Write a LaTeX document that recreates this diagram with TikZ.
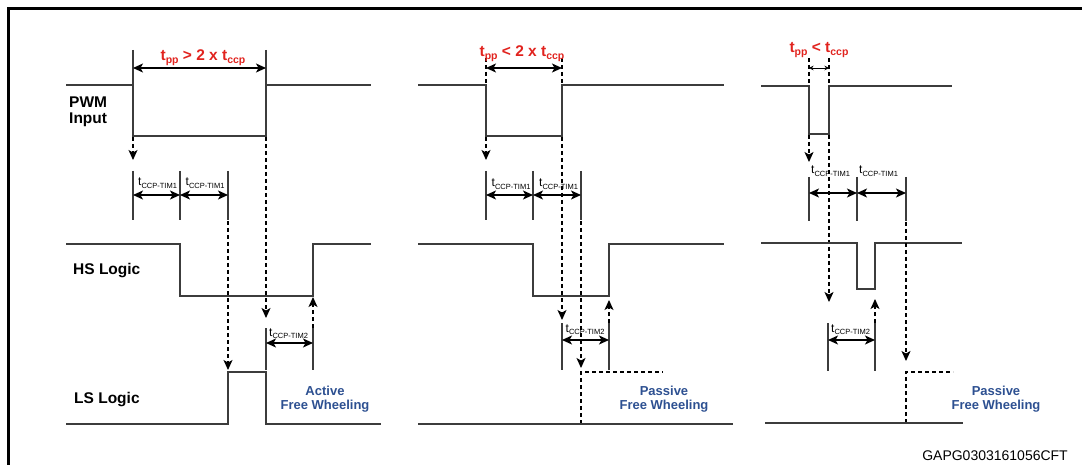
\documentclass[tikz,border=0pt]{standalone}
\usepackage{fontspec}
\setmainfont{Liberation Sans}
\usetikzlibrary{arrows.meta}
\definecolor{redlab}{RGB}{225,35,30}
\definecolor{bluelab}{RGB}{45,80,145}
\definecolor{wavec}{RGB}{60,60,60}
\tikzset{
 wave/.style={draw=wavec, line width=1.3pt},
 tickl/.style={draw=wavec, line width=1.2pt},
 dimarr/.style={line width=1.1pt, {Stealth[length=10pt,width=9pt,inset=2.5pt]}-{Stealth[length=10pt,width=9pt,inset=2.5pt]}},
 smalldim/.style={line width=0.8pt, {Stealth[length=4.5pt,width=4.5pt]}-{Stealth[length=4.5pt,width=4.5pt]}},
 dsh/.style={line width=1.1pt, dash pattern=on 4pt off 3pt},
 darr/.style={dsh, -{Stealth[length=10pt,width=9pt,inset=2.5pt]}},
 sig/.style={font=\fontsize{15.5}{16.5}\selectfont\bfseries, align=left, inner sep=0pt},
 tpplab/.style={font=\fontsize{15.5}{15.5}\selectfont\bfseries, text=redlab, anchor=base, inner sep=0pt},
 fwlab/.style={font=\fontsize{13}{14}\selectfont\bfseries, text=bluelab, align=center, anchor=center, inner sep=0pt},
 timlab/.style={font=\fontsize{12}{12}\selectfont, anchor=base west, inner sep=0pt},
}
\newcommand{\tsub}[1]{t\raisebox{-2.5pt}{\fontsize{7.5}{7.5}\selectfont #1}}
\newcommand{\rsub}[1]{t\raisebox{-3pt}{\fontsize{10.5}{10.5}\selectfont #1}}
\begin{document}
\begin{tikzpicture}[x=1pt,y=-1pt]
\useasboundingbox (0,0) rectangle (1082,465);
\clip (0,0) rectangle (1082,465);
\draw[line width=2.8pt] (8.5,8.5) rectangle (1100,480);

% ---------- Panel 1 ----------
\draw[wave] (66,85) -- (133,85) -- (133,136) -- (266,136) -- (266,85) -- (371,85);
\draw[tickl] (133,50) -- (133,85) (266,50) -- (266,85);
\draw[dimarr] (133,68) -- (266,68);
\node[tpplab] (r1) at (203,61) {\rsub{pp} > 2 x \rsub{ccp}};
\draw[darr] (133,137) -- (133,160);
\draw[darr] (266,137) -- (266,318);
\draw[tickl] (133,171) -- (133,220) (180,171) -- (180,220) (228,171) -- (228,220);
\draw[dimarr] (133,195) -- (180,195);
\draw[dimarr] (180,195) -- (228,195);
\node[timlab] (a1) at (138,186) {\tsub{CCP-TIM1}};
\node[timlab] (a2) at (185.5,186) {\tsub{CCP-TIM1}};
\draw[wave] (66,244) -- (180,244) -- (180,296) -- (313,296) -- (313,244) -- (371,244);
\draw[darr] (228,221) -- (228,370);
\draw[tickl] (266,328) -- (266,370) (313,328) -- (313,370);
\draw[dimarr] (266,343) -- (313,343);
\node[timlab] (a3) at (269,336) {\tsub{CCP-TIM2}};
\draw[darr] (313,328) -- (313,297);
\draw[wave] (66,424) -- (228,424) -- (228,372) -- (266,372) -- (266,424) -- (381,424);
\node[sig, anchor=north west] (pwm) at (69,96.5) {PWM\\Input};
\node[sig, anchor=base west] (hs) at (73,274) {HS Logic};
\node[sig, anchor=base west] (ls) at (74,403) {LS Logic};
\node[fwlab] (f1) at (325,398.7) {Active\\Free Wheeling};

% ---------- Panel 2 ----------
\draw[wave] (418,85) -- (486,85) -- (486,136) -- (562,136) -- (562,85) -- (724,85);
\draw[dsh] (486,58) -- (486,85) (562,58) -- (562,85);
\draw[dimarr] (486,68) -- (562,68);
\node[tpplab] (r2) at (522,57) {\rsub{pp} < 2 x \rsub{ccp}};
\draw[darr] (486,137) -- (486,160);
\draw[darr] (562,137) -- (562,320);
\draw[tickl] (486,171) -- (486,220) (533,171) -- (533,220) (581,171) -- (581,220);
\draw[dimarr] (486,195) -- (533,195);
\draw[dimarr] (533,195) -- (581,195);
\node[timlab] (b1) at (491.5,187) {\tsub{CCP-TIM1}};
\node[timlab] (b2) at (539,187) {\tsub{CCP-TIM1}};
\draw[wave] (418,244) -- (533,244) -- (533,296) -- (609,296) -- (609,244) -- (724,244);
\draw[darr] (581,221) -- (581,368);
\draw[dsh] (581,424) |- (663,372);
\draw[tickl] (562,323) -- (562,370) (609,323) -- (609,370);
\draw[dimarr] (562,340) -- (609,340);
\node[timlab] (b3) at (565.5,332) {\tsub{CCP-TIM2}};
\draw[darr] (609,323) -- (609,300);
\draw[wave] (418,424) -- (733,424);
\node[fwlab] (f2) at (664,398.7) {Passive\\Free Wheeling};

% ---------- Panel 3 ----------
\draw[wave] (761,86) -- (809,86) -- (809,134) -- (829,134) -- (829,86) -- (952,86);
\draw[dsh] (809,58) -- (809,86) (829,58) -- (829,86);
\draw[smalldim] (809,68) -- (829,68);
\node[tpplab] (r3) at (819,53) {\rsub{pp} < \rsub{ccp}};
\draw[darr] (809,135) -- (809,162);
\draw[darr] (829,135) -- (829,302);
\draw[tickl] (809,177) -- (809,221) (857,177) -- (857,221) (906,177) -- (906,221);
\draw[dimarr] (809,193) -- (857,193);
\draw[dimarr] (857,193) -- (906,193);
\node[timlab] (c1) at (811,174) {\tsub{CCP-TIM1}};
\node[timlab] (c2) at (859,174) {\tsub{CCP-TIM1}};
\draw[wave] (761,243) -- (857,243) -- (857,289) -- (875,289) -- (875,243) -- (962,243);
\draw[darr] (906,222) -- (906,361);
\draw[dsh] (906,423) |- (953,372);
\draw[tickl] (828,323) -- (828,371) (875,323) -- (875,371);
\draw[dimarr] (828,340) -- (875,340);
\node[timlab] (c3) at (831,332) {\tsub{CCP-TIM2}};
\draw[darr] (875,323) -- (875,299);
\draw[wave] (765,423) -- (963,423);
\node[fwlab] (f3) at (996,398.7) {Passive\\Free Wheeling};

\node[font=\fontsize{14}{14}\selectfont, anchor=base east, inner sep=0pt] (code) at (1068,460) {GAPG0303161056CFT};
\end{tikzpicture}
\end{document}
